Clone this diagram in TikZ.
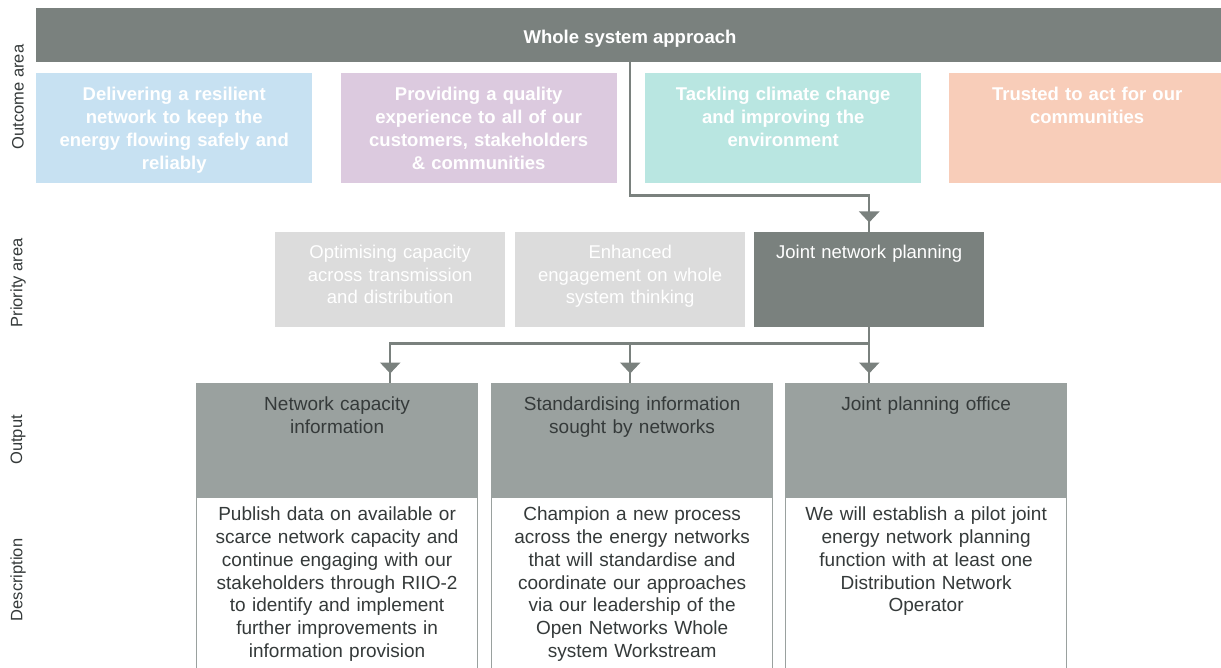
\documentclass[tikz,border=0pt]{standalone}
\usepackage{fontspec}
\setmainfont{Liberation Sans}
\usetikzlibrary{arrows.meta,positioning,decorations.markings}
\definecolor{barGray}{HTML}{7A817E}
\definecolor{outGray}{HTML}{9AA19F}
\definecolor{prioGray}{HTML}{DCDCDC}
\definecolor{oBlue}{HTML}{C7E1F2}
\definecolor{oPurple}{HTML}{DCCADF}
\definecolor{oTeal}{HTML}{B9E6E1}
\definecolor{oPeach}{HTML}{F8CDB9}
\definecolor{txtDark}{HTML}{353A3A}
\tikzset{
	box/.style={rectangle, inner sep=0pt, anchor=north west},
	outcome/.style={box, minimum width=276pt, minimum height=110pt},
	prio/.style={box, minimum width=230pt, minimum height=95pt},
	outp/.style={box, fill=outGray, draw=outGray, line width=1.2pt, minimum width=281pt, minimum height=114pt},
	desc/.style={box, fill=white, draw=outGray, line width=1.2pt, minimum width=281pt, minimum height=200pt},
	otext/.style={anchor=north, inner sep=0pt, align=center, text width=270pt, text=white,
		font=\bfseries\fontsize{18.5}{23}\selectfont},
	ptext/.style={anchor=north, inner sep=0pt, align=center, text width=225pt, text=white,
		font=\fontsize{18.5}{22.5}\selectfont},
	dtext/.style={anchor=north, inner sep=0pt, align=center, text width=278pt, text=txtDark,
		font=\fontsize{19}{22.7}\selectfont},
	side/.style={rotate=90, inner sep=0pt, text=txtDark, font=\fontsize{16.5}{18}\selectfont},
	conn/.style={draw=barGray, line width=2.5pt,
		postaction={decorate, decoration={markings,
		mark=at position -9.5pt with {\arrow[barGray]{Triangle[width=20pt,length=11pt]}}}}},
}
\begin{document}
\begin{tikzpicture}[x=1pt, y=-1pt]
\clip (0,0) rectangle (1221,668);
\fill[white] (0,0) rectangle (1221,668);

% side labels
\node[side] (lOutcome) at (18,97) {Outcome area};
\node[side] (lPriority) at (18,283) {Priority area};
\node[side] (lOutput) at (18,440) {Output};
\node[side] (lDesc) at (18,580) {Description};

% outcome area
\node[box, fill=barGray, minimum width=1190pt, minimum height=54pt] (bar) at (36,8) {};
\node[inner sep=0pt, text=white, font=\bfseries\fontsize{18.5}{22}\selectfont] (bartxt) at (630,38.5) {Whole system approach};

\node[outcome, fill=oBlue] (o1) at (36,73) {};
\node[outcome, fill=oPurple] (o2) at (340.5,73) {};
\node[outcome, fill=oTeal] (o3) at (645,73) {};
\node[outcome, fill=oPeach] (o4) at (949,73) {};
\node[otext, below=14pt of o1.north] (o1txt) {Delivering a resilient\\network to keep the\\energy flowing safely and\\reliably};
\node[otext, below=14pt of o2.north] (o2txt) {Providing a quality\\experience to all of our\\customers, stakeholders\\\& communities};
\node[otext, below=14pt of o3.north] (o3txt) {Tackling climate change\\and improving the\\environment};
\node[otext, below=14pt of o4.north] (o4txt) {Trusted to act for our\\communities};

% priority area
\node[prio, fill=prioGray] (p1) at (275,232) {};
\node[prio, fill=prioGray] (p2) at (515,232) {};
\node[prio, fill=barGray] (p3) at (754,232) {};
\node[ptext, below=13pt of p1.north] (p1txt) {Optimising capacity\\across transmission\\and distribution};
\node[ptext, below=13pt of p2.north] (p2txt) {Enhanced\\engagement on whole\\system thinking};
\node[ptext, below=13pt of p3.north] (p3txt) {Joint network planning};

% outputs and descriptions
\node[outp] (q1) at (196,383) {};
\node[outp] (q2) at (491,383) {};
\node[outp] (q3) at (785,383) {};
\node[desc] (d1) at (196,497) {};
\node[desc] (d2) at (491,497) {};
\node[desc] (d3) at (785,497) {};
\node[dtext, below=14pt of q1.north] (q1txt) {Network capacity\\information};
\node[dtext, below=14pt of q2.north] (q2txt) {Standardising information\\sought by networks};
\node[dtext, below=14pt of q3.north] (q3txt) {Joint planning office};
\node[dtext, below=10pt of d1.north] (d1txt) {Publish data on available or\\scarce network capacity and\\continue engaging with our\\stakeholders through RIIO-2\\to identify and implement\\further improvements in\\information provision};
\node[dtext, below=10pt of d2.north] (d2txt) {Champion a new process\\across the energy networks\\that will standardise and\\coordinate our approaches\\via our leadership of the\\Open Networks Whole\\system Workstream};
\node[dtext, below=10pt of d3.north] (d3txt) {We will establish a pilot joint\\energy network planning\\function with at least one\\Distribution Network\\Operator};

% connectors
\coordinate[below=16pt of p3.south] (split);
\draw[conn] (p2.north |- bar.south) -- ++(0,133) -| (p3.north);
\draw[conn] (p3.south) -- (q3.north -| p3.south);
\draw[conn] (split) -| (q1.north -| p1.south);
\draw[conn] (split) -| (q2.north -| p2.south);
\end{tikzpicture}
\end{document}
